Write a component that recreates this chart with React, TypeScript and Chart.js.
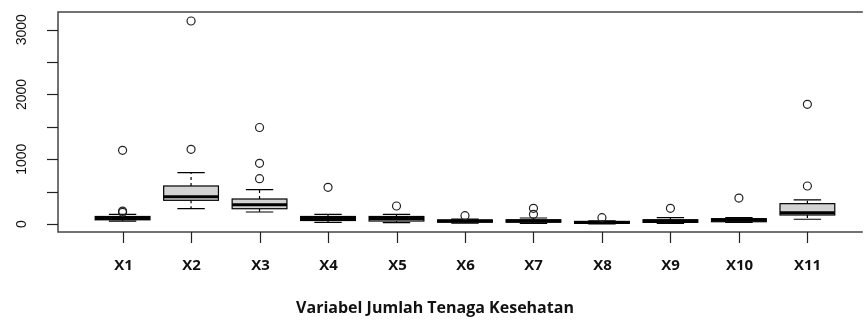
import React, { useEffect, useRef } from "react";
import { Chart, registerables } from "chart.js";

Chart.register(...registerables);

const categories = ["X1", "X2", "X3", "X4", "X5", "X6", "X7", "X8", "X9", "X10", "X11"];
const whiskerLow = [45, 236, 185, 26, 20, 15, 10, 0, 10, 25, 73];
const q1 = [65, 366, 236, 54, 46, 28, 28, 10, 25, 35, 139];
const median = [85, 420, 298, 85, 85, 45, 45, 22, 45, 60, 175];
const q3 = [116, 587, 386, 116, 116, 62, 65, 40, 65, 82, 314];
const whiskerHigh = [150, 792, 530, 150, 150, 75, 93, 50, 97, 97, 371];
const outliers = [
  [180, 200, 1138],
  [1153, 3134],
  [700, 937, 1490],
  [566],
  [278],
  [128],
  [150, 242],
  [97],
  [242],
  [401],
  [587, 1848],
];
const yTicks = [0, 500, 1000, 1500, 2000, 2500, 3000];
const yLabels = [0, 1000, 2000, 3000];
const xTitle = "Variabel Jumlah Tenaga Kesehatan";

const boxPlugin = {
  id: "boxplotDraw",
  beforeDatasetsDraw(chart: any) {
    const { ctx, chartArea, scales } = chart;
    const x = scales.x;
    const y = scales.y;
    const unit = x.getPixelForValue(2) - x.getPixelForValue(1);
    const boxW = unit * 0.8;
    const capW = boxW * 0.5;
    ctx.save();
    ctx.strokeStyle = "#444";
    ctx.lineWidth = 1.5;
    ctx.beginPath();
    ctx.moveTo(chartArea.right + 2, chartArea.top);
    ctx.lineTo(chartArea.left, chartArea.top);
    ctx.lineTo(chartArea.left, chartArea.bottom);
    ctx.lineTo(chartArea.right + 2, chartArea.bottom);
    ctx.stroke();

    ctx.strokeStyle = "#222";
    ctx.lineWidth = 1.2;
    yTicks.forEach((t) => {
      const py = Math.round(y.getPixelForValue(t)) + 0.5;
      ctx.beginPath();
      ctx.moveTo(chartArea.left - 11, py);
      ctx.lineTo(chartArea.left, py);
      ctx.stroke();
    });
    ctx.fillStyle = "#111";
    ctx.font = "14px 'Liberation Sans', Arial, sans-serif";
    ctx.textAlign = "center";
    ctx.textBaseline = "middle";
    yLabels.forEach((t) => {
      const py = y.getPixelForValue(t);
      ctx.save();
      ctx.translate(22, py);
      ctx.rotate(-Math.PI / 2);
      ctx.fillText(String(t), 0, 0);
      ctx.restore();
    });

    ctx.font = "bold 15px 'Open Sans', Lato, sans-serif";
    categories.forEach((c, i) => {
      const px = Math.round(x.getPixelForValue(i + 1)) + 0.5;
      ctx.beginPath();
      ctx.moveTo(px, chartArea.bottom);
      ctx.lineTo(px, chartArea.bottom + 11);
      ctx.stroke();
      ctx.fillText(c, px, chartArea.bottom + 34);
    });
    ctx.font = "bold 16px 'Open Sans', Lato, sans-serif";
    ctx.fillText(xTitle, 435, chartArea.bottom + 76);

    categories.forEach((c, i) => {
      const cx = x.getPixelForValue(i + 1);
      const pLo = y.getPixelForValue(whiskerLow[i]);
      const pQ1 = y.getPixelForValue(q1[i]);
      const pMed = y.getPixelForValue(median[i]);
      const pQ3 = y.getPixelForValue(q3[i]);
      const pHi = y.getPixelForValue(whiskerHigh[i]);
      ctx.strokeStyle = "#000";
      ctx.lineWidth = 1.2;
      ctx.setLineDash([3, 3]);
      ctx.beginPath();
      ctx.moveTo(cx, pQ3);
      ctx.lineTo(cx, pHi);
      ctx.moveTo(cx, pQ1);
      ctx.lineTo(cx, pLo);
      ctx.stroke();
      ctx.setLineDash([]);
      ctx.beginPath();
      ctx.moveTo(cx - capW / 2, pHi);
      ctx.lineTo(cx + capW / 2, pHi);
      ctx.moveTo(cx - capW / 2, pLo);
      ctx.lineTo(cx + capW / 2, pLo);
      ctx.stroke();
      ctx.fillStyle = "#d3d3d3";
      ctx.fillRect(cx - boxW / 2, pQ3, boxW, pQ1 - pQ3);
      ctx.strokeRect(cx - boxW / 2, pQ3, boxW, pQ1 - pQ3);
      ctx.lineWidth = 3;
      ctx.beginPath();
      ctx.moveTo(cx - boxW / 2, pMed);
      ctx.lineTo(cx + boxW / 2, pMed);
      ctx.stroke();
    });
    ctx.restore();
  },
};

export default function App() {
  const ref = useRef<HTMLCanvasElement | null>(null);
  useEffect(() => {
    if (!ref.current) return;
    const points: { x: number; y: number }[] = [];
    outliers.forEach((arr, i) => arr.forEach((v) => points.push({ x: i + 1, y: v })));
    const chart = new Chart(ref.current, {
      type: "scatter",
      data: {
        datasets: [
          {
            data: points,
            pointStyle: "circle",
            pointRadius: 4,
            pointBorderWidth: 1.2,
            borderColor: "#222",
            backgroundColor: "rgba(0,0,0,0)",
            clip: false as any,
          },
        ],
      },
      options: {
        animation: false,
        responsive: false,
        devicePixelRatio: 1,
        layout: { padding: { left: 58, top: 12, right: 0, bottom: 88 } },
        plugins: { legend: { display: false }, tooltip: { enabled: false } },
        scales: {
          x: { type: "linear", min: 0.057, max: 11.78, display: false },
          y: { type: "linear", min: -123.5, max: 3273, display: false },
        },
      },
      plugins: [boxPlugin],
    });
    return () => chart.destroy();
  }, []);
  return (
    <div style={{ position: "absolute", left: 0, top: 0, width: 866, height: 320, background: "#fff" }}>
      <canvas ref={ref} width={866} height={320} />
    </div>
  );
}
